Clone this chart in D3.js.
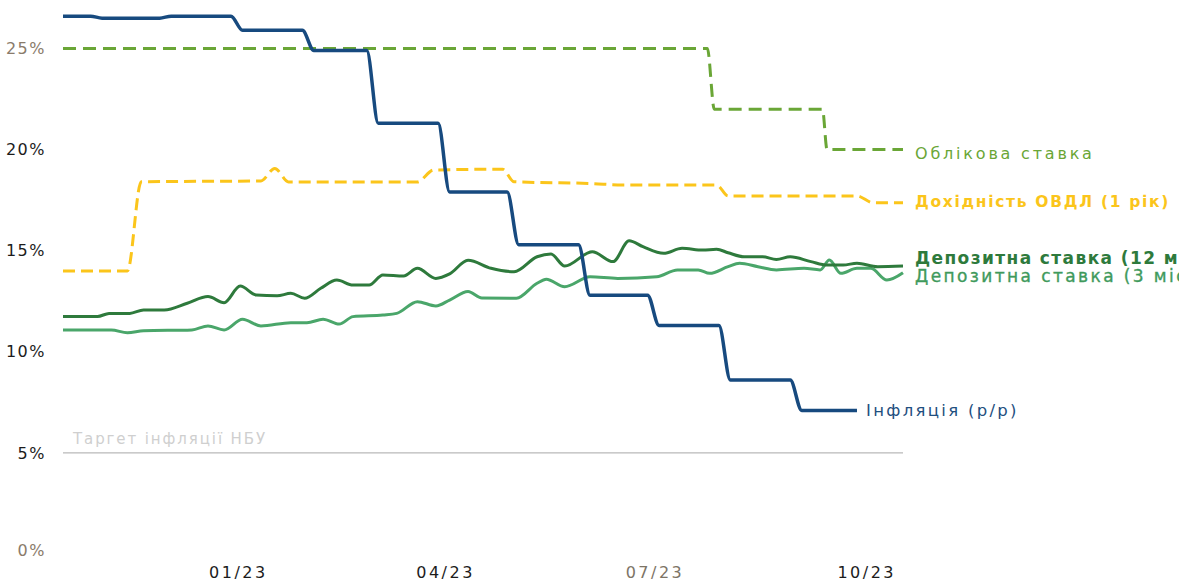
<!DOCTYPE html>
<html>
<head>
<meta charset="utf-8">
<script src="https://cdn.jsdelivr.net/npm/d3@7"></script>
<style>
  html, body { margin: 0; padding: 0; background: #fff; }
  svg { display: block; }
  text { font-family: "DejaVu Sans", Verdana, sans-serif; }
</style>
</head>
<body>
<svg id="chart" width="1179" height="582"></svg>
<script>
// ---- data ----
// Inflation (y/y), monthly, Oct 2022 .. Sep 2023
const inflationMonths = ["2022-10-01","2022-11-01","2022-12-01","2023-01-01","2023-02-01","2023-03-01",
                         "2023-04-01","2023-05-01","2023-06-01","2023-07-01","2023-08-01","2023-09-01"];
const inflationValues = [26.6, 26.5, 26.6, 25.9, 24.9, 21.3, 17.9, 15.3, 12.8, 11.3, 8.6, 7.1];
const inflationEnd = "2023-09-27";

// Key policy rate
const policyDates  = ["2022-10-17","2023-07-24","2023-07-27","2023-09-12","2023-09-14","2023-10-17"];
const policyValues = [25, 25, 22, 22, 20, 20];

// 1-year government bond (OVDP) yield
const ovdpDates  = ["2022-10-17","2022-11-14","2022-11-20","2023-01-11","2023-01-17","2023-01-23",
                    "2023-03-20","2023-03-27","2023-04-26","2023-05-01","2023-06-04","2023-06-17",
                    "2023-07-28","2023-08-02","2023-09-27","2023-10-04","2023-10-17"];
const ovdpValues = [14.0, 14.0, 18.41, 18.45, 19.07, 18.40,
                    18.40, 18.99, 19.03, 18.41, 18.32, 18.25,
                    18.25, 17.71, 17.71, 17.37, 17.37];

// Deposit rate, 12 months
const dep12Dates  = ["2022-10-17","2022-11-01","2022-11-06","2022-11-15","2022-11-21","2022-11-30",
                     "2022-12-10","2022-12-19","2022-12-26","2023-01-02","2023-01-09","2023-01-18",
                     "2023-01-24","2023-01-30","2023-02-06","2023-02-13","2023-02-20","2023-02-27",
                     "2023-03-05","2023-03-14","2023-03-20","2023-03-28","2023-04-03","2023-04-11",
                     "2023-04-21","2023-05-01","2023-05-11","2023-05-17","2023-05-23","2023-06-04",
                     "2023-06-13","2023-06-20","2023-06-26","2023-07-05","2023-07-13","2023-07-22",
                     "2023-07-28","2023-08-02","2023-08-09","2023-08-17","2023-08-23","2023-08-29",
                     "2023-09-07","2023-09-14","2023-09-21","2023-09-27","2023-10-06","2023-10-17"];
const dep12Values = [11.74, 11.74, 11.90, 11.90, 12.07, 12.07,
                     12.40, 12.73, 12.43, 13.25, 12.81, 12.77,
                     12.89, 12.65, 13.14, 13.55, 13.30, 13.30,
                     13.80, 13.75, 14.13, 13.63, 13.85, 14.53,
                     14.13, 13.96, 14.70, 14.84, 14.24, 14.95,
                     14.46, 15.49, 15.20, 14.87, 15.12, 15.03,
                     15.07, 14.90, 14.70, 14.70, 14.57, 14.70,
                     14.46, 14.29, 14.29, 14.38, 14.21, 14.24];

// Deposit rate, 3 months
const dep3Dates  = ["2022-10-17","2022-11-07","2022-11-14","2022-11-21","2022-12-12","2022-12-19",
                    "2022-12-26","2023-01-03","2023-01-11","2023-01-24","2023-01-31","2023-02-07",
                    "2023-02-14","2023-02-20","2023-03-05","2023-03-11","2023-03-20","2023-03-28",
                    "2023-04-03","2023-04-11","2023-04-17","2023-05-02","2023-05-11","2023-05-15",
                    "2023-05-23","2023-06-03","2023-06-15","2023-07-02","2023-07-11","2023-07-20",
                    "2023-07-25","2023-08-02","2023-08-07","2023-08-15","2023-08-23","2023-09-04",
                    "2023-09-11","2023-09-15","2023-09-20","2023-09-27","2023-10-03","2023-10-10",
                    "2023-10-17"];
const dep3Values = [11.08, 11.08, 10.94, 11.04, 11.08, 11.28,
                    11.08, 11.61, 11.28, 11.44, 11.44, 11.61,
                    11.37, 11.74, 11.82, 11.90, 12.48, 12.27,
                    12.56, 12.98, 12.66, 12.65, 13.39, 13.59,
                    13.22, 13.71, 13.63, 13.71, 14.05, 14.05,
                    13.88, 14.21, 14.38, 14.21, 14.05, 14.13,
                    14.05, 14.54, 13.88, 14.13, 14.13, 13.55,
                    13.91];

const inflationTarget = 5;

// Axis ticks
const yTicks = [0, 5, 10, 15, 20, 25];
const xTicks = ["2023-01-01","2023-04-01","2023-07-01","2023-10-01"];

// Series labels
const labelPolicy = "Облікова ставка";
const labelOvdp   = "Дохідність ОВДЛ (1 рік)";
const labelDep12  = "Депозитна ставка (12 міс.)";
const labelDep3   = "Депозитна ставка (3 міс.)";
const labelInfl   = "Інфляція (р/р)";
const labelTarget = "Таргет інфляції НБУ";

// ---- drawing ----
const parse = d3.timeParse("%Y-%m-%d");
const svg = d3.select("#chart");

const x = d3.scaleTime()
  .domain([parse("2022-10-17"), parse("2023-10-17")])
  .range([63, 903]);
const y = d3.scaleLinear().domain([0, 25]).range([554, 48.5]);

const zip = (ds, vs) => ds.map((d, i) => ({ date: parse(d), value: vs[i] }));

const line = d3.line()
  .x(d => x(d.date))
  .y(d => y(d.value))
  .curve(d3.curveMonotoneX);

// Y axis
const yAxis = svg.append("g")
  .attr("transform", "translate(46,0)")
  .call(d3.axisLeft(y).tickValues(yTicks).tickSize(0).tickPadding(0).tickFormat(d => d + "%"));
yAxis.select(".domain").remove();
yAxis.selectAll("text")
  .attr("font-size", 16)
  .attr("letter-spacing", "1.5px")
  .attr("font-family", "'DejaVu Sans', sans-serif")
  .attr("dy", d => d === 0 ? "0.1em" : "0.32em")
  .attr("fill", d => (d === 0 || d === 25) ? "#8a7b6b" : "#1c1c1c");

// X axis
const xAxis = svg.append("g")
  .attr("transform", "translate(0,567)")
  .call(d3.axisBottom(x).tickValues(xTicks.map(parse)).tickSize(0).tickPadding(0)
        .tickFormat(d3.timeFormat("%m/%y")));
xAxis.select(".domain").remove();
xAxis.selectAll("text")
  .attr("font-size", 16)
  .attr("letter-spacing", "2.5px")
  .attr("font-family", "'DejaVu Sans', sans-serif")
  .attr("fill", (d, i) => i === 2 ? "#7d7466" : "#1c1c1c");

// Inflation target line
svg.append("line")
  .attr("x1", x.range()[0]).attr("x2", x.range()[1])
  .attr("y1", y(inflationTarget)).attr("y2", y(inflationTarget))
  .attr("stroke", "#b9b9b9").attr("stroke-width", 1.2);
svg.append("text")
  .attr("x", 73).attr("y", y(inflationTarget) - 9)
  .attr("font-size", 15).attr("letter-spacing", "1.9px")
  .attr("fill", "#cfcfcf")
  .text(labelTarget);

// Inflation: monthly steps with a short transition around month start
const DAY = 864e5;
const inflPts = [];
inflationMonths.forEach((m, i) => {
  const start = parse(m);
  const v = inflationValues[i];
  if (i === 0) {
    inflPts.push({ date: x.domain()[0], value: v });
  } else {
    inflPts.push({ date: new Date(+start + 2 * DAY), value: v });
  }
  const next = i + 1 < inflationMonths.length ? new Date(+parse(inflationMonths[i + 1]) - 3 * DAY)
                                               : parse(inflationEnd);
  inflPts.push({ date: next, value: v });
});

// Policy rate (dashed)
svg.append("path")
  .datum(zip(policyDates, policyValues))
  .attr("d", line)
  .attr("fill", "none")
  .attr("stroke", "#6aa636")
  .attr("stroke-width", 3)
  .attr("stroke-dasharray", "13,7");

// OVDP yield (dashed)
svg.append("path")
  .datum(zip(ovdpDates, ovdpValues))
  .attr("d", line)
  .attr("fill", "none")
  .attr("stroke", "#fbc51b")
  .attr("stroke-width", 3)
  .attr("stroke-dasharray", "12,6");

// Deposit rates
svg.append("path")
  .datum(zip(dep3Dates, dep3Values))
  .attr("d", line)
  .attr("fill", "none")
  .attr("stroke", "#4aa66a")
  .attr("stroke-width", 3);

svg.append("path")
  .datum(zip(dep12Dates, dep12Values))
  .attr("d", line)
  .attr("fill", "none")
  .attr("stroke", "#2e7a3c")
  .attr("stroke-width", 3);

// Inflation
svg.append("path")
  .datum(inflPts)
  .attr("d", line)
  .attr("fill", "none")
  .attr("stroke", "#174a7f")
  .attr("stroke-width", 3.5);

// Series labels (the deposit labels run past the right edge)
const lab = (txt, xp, yp, color, weight, size, spacing, outline) => svg.append("text")
  .attr("x", xp).attr("y", yp).attr("dy", "0.35em")
  .attr("font-size", size).attr("letter-spacing", spacing + "px")
  .attr("font-weight", weight)
  .attr("fill", color)
  .attr("stroke", outline ? color : null)
  .attr("stroke-width", outline ? 0.35 : null)
  .text(txt);

lab(labelPolicy, 915, 153, "#6aa636", 400, 16, 2.8);
lab(labelOvdp,   915, 202, "#fbc51b", 700, 15.5, 1.7);
lab(labelDep12,  915, 258, "#2e7a3c", 700, 17, 1.4);
lab(labelDep3,   915, 276, "#3f9a5c", 400, 17, 2.4, true);
lab(labelInfl,   866, y(inflationValues[inflationValues.length - 1]), "#1f4f80", 400, 16.5, 2.3);
</script>
</body>
</html>
